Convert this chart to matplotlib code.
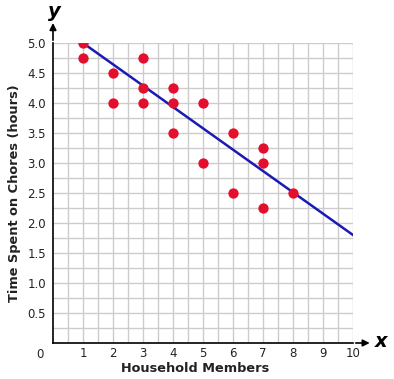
import numpy as np
import matplotlib
matplotlib.use("Agg")
import matplotlib.pyplot as plt

# scatter data
members = [1, 1, 2, 2, 3, 3, 3, 4, 4, 4, 5, 5, 6, 6, 7, 7, 7, 8]
hours = [5.0, 4.75, 4.5, 4.0, 4.75, 4.25, 4.0, 4.25, 4.0, 3.5,
         4.0, 3.0, 3.5, 2.5, 3.25, 3.0, 2.25, 2.5]

# trend line end points
line_x = [1, 10]
line_y = [5.0, 1.8]

x_ticks = [1, 2, 3, 4, 5, 6, 7, 8, 9, 10]
y_ticks = [0.5, 1.0, 1.5, 2.0, 2.5, 3.0, 3.5, 4.0, 4.5, 5.0]

W, H = 394, 379
fig = plt.figure(figsize=(W / 100, H / 100), dpi=100)
ax = fig.add_axes([53 / W, (H - 343) / H, 300 / W, 300 / H])
ax.set_xlim(0, 10)
ax.set_ylim(0, 5)

# grid every 0.5 in x and 0.25 in y
for gx in np.arange(0.5, 10.01, 0.5):
    ax.axvline(gx, color="#cccccc", lw=1.0, zorder=0)
for gy in np.arange(0.25, 5.01, 0.25):
    ax.axhline(gy, color="#cccccc", lw=1.0, zorder=0)

ax.plot(line_x, line_y, color="#1a1ab4", lw=1.8, zorder=2)
ax.scatter(members, hours, s=55, color="#e3102d", zorder=3, linewidths=0)

for s in ["top", "right"]:
    ax.spines[s].set_visible(False)
for s in ["left", "bottom"]:
    ax.spines[s].set_color("black")
    ax.spines[s].set_linewidth(1.2)

ax.set_xticks(x_ticks)
ax.set_xticklabels([str(t) for t in x_ticks])
ax.set_yticks(y_ticks)
ax.set_yticklabels([f"{t:.1f}" for t in y_ticks])
ax.tick_params(axis="x", length=0, labelsize=8.5, colors="#222222", pad=3)
ax.tick_params(axis="y", length=0, labelsize=8.5, colors="#222222", pad=5)
ax.text(-0.3, -0.08, "0", ha="right", va="top", fontsize=8.5, color="#222222")

# arrows on axes
ax.annotate("", xy=(10.65, 0), xytext=(10, 0), xycoords="data",
            arrowprops=dict(arrowstyle="-|>", color="black", lw=1.2, mutation_scale=10),
            annotation_clip=False)
ax.annotate("", xy=(0, 5.38), xytext=(0, 5), xycoords="data",
            arrowprops=dict(arrowstyle="-|>", color="black", lw=1.2, mutation_scale=10),
            annotation_clip=False)
ax.text(10.95, 0.02, "x", ha="center", va="center", fontsize=14,
        fontweight="bold", fontstyle="italic", clip_on=False)
ax.text(0.05, 5.52, "y", ha="center", va="center", fontsize=14,
        fontweight="bold", fontstyle="italic", clip_on=False)

fig.text(195 / W, 1 - 369 / H, "Household Members", ha="center", va="center",
         fontsize=9.3, fontweight="bold", color="#222222")
fig.text(15 / W, 1 - 193 / H, "Time Spent on Chores (hours)", ha="center",
         va="center", rotation=90, fontsize=9.3, fontweight="bold", color="#222222")

fig.savefig("out.png", dpi=100)
